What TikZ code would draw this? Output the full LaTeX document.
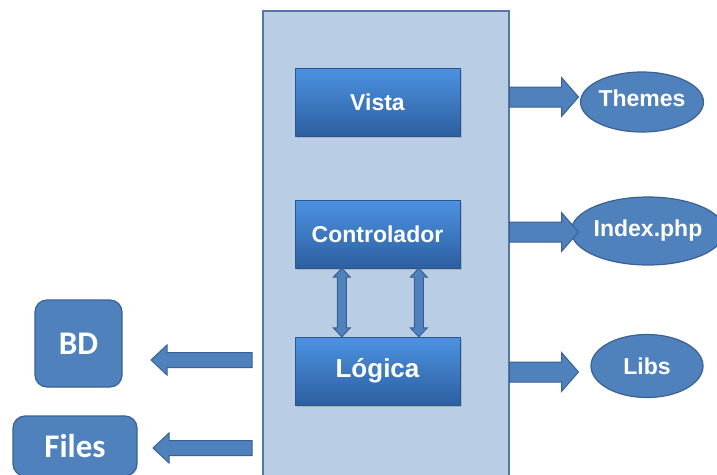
\documentclass[tikz,border=0pt]{standalone}
\usepackage{fontspec}
\setmainfont{Liberation Sans}
\newfontfamily\calfont{Carlito}
\usetikzlibrary{calc,shapes.geometric,shadows}

\definecolor{panelfill}{HTML}{B9CDE5}
\definecolor{paneledge}{HTML}{5577A8}
\definecolor{boxtop}{HTML}{4C92E2}
\definecolor{boxbot}{HTML}{2D5F9F}
\definecolor{shapefill}{HTML}{4F81BD}
\definecolor{shapeedge}{HTML}{3A6192}

\tikzset{
  panel/.style={draw=paneledge, line width=1.5pt, fill=panelfill},
  mvcbox/.style={rectangle, top color=boxtop, bottom color=boxbot,
    draw=boxbot!90!black, line width=0.4pt, text=white,
    font=\bfseries\fontsize{23}{26}\selectfont,
    minimum width=165pt, minimum height=68pt, inner sep=0pt,
    drop shadow={opacity=0.35, shadow xshift=1.5pt, shadow yshift=-2pt}},
  target/.style={ellipse, fill=shapefill, draw=shapeedge, line width=1.2pt,
    text=white, font=\bfseries\fontsize{23}{26}\selectfont, inner sep=0pt},
  store/.style={rectangle, rounded corners=12pt, fill=shapefill,
    draw=shapeedge, line width=1.2pt, text=white,
    font=\calfont\bfseries\fontsize{33}{36}\selectfont, inner sep=0pt},
  fatarrow/.style={fill=shapefill, draw=shapeedge, line width=1pt, line join=miter},
}

% horizontal block arrow: start, signed length, half shaft, half head, signed head length
\newcommand\blockarrow[5]{%
  \path[fatarrow]
    ($(#1)+(0,-#3)$) -- ($(#1)+({#2-(#5)},-#3)$) -- ($(#1)+({#2-(#5)},-#4)$)
    -- ($(#1)+(#2,0)$)
    -- ($(#1)+({#2-(#5)},#4)$) -- ($(#1)+({#2-(#5)},#3)$) -- ($(#1)+(0,#3)$) -- cycle;}

% vertical two-headed arrow between a top and a bottom point
\newcommand\twoway[2]{%
  \path[fatarrow]
    (#1) -- ($(#1)+(8.5,9)$) -- ($(#1)+(4.5,9)$) -- ($(#2)+(4.5,-9)$)
    -- ($(#2)+(8.5,-9)$) -- (#2) -- ($(#2)+(-8.5,-9)$) -- ($(#2)+(-4.5,-9)$)
    -- ($(#1)+(-4.5,9)$) -- ($(#1)+(-8.5,9)$) -- cycle;}

\begin{document}
\begin{tikzpicture}[x=1pt, y=-1pt]
  \useasboundingbox (0,0) rectangle (717,474);
  \clip (0,0) rectangle (717,474);

  % application panel
  \node[panel, anchor=north west, minimum width=246pt, minimum height=480pt,
        inner sep=0pt] (panel) at (262,10) {};

  % MVC layers
  \node[mvcbox] (vista) at (377.5,102) {Vista};
  \node[mvcbox] (ctrl)  at (377.5,234) {Controlador};
  \node[mvcbox, font=\bfseries\fontsize{26}{30}\selectfont] (logica) at (377.5,371) {Lógica};

  % controller <-> logic links
  \coordinate (l1t) at ($(ctrl.south west)+(47,0)$);
  \coordinate (l1b) at (l1t |- logica.north);
  \coordinate (l2t) at ($(ctrl.south west)+(124,0)$);
  \coordinate (l2b) at (l2t |- logica.north);
  \twoway{l1t}{l1b}
  \twoway{l2t}{l2b}

  % outputs on the right
  \node[target, minimum width=112pt, minimum height=60pt] (themes) at (642,102) {\raisebox{8pt}{Themes}};
  \node[target, minimum width=135pt, minimum height=68pt] (index)  at (648,231) {Index.php};
  \node[target, minimum width=112pt, minimum height=63pt] (libs)   at (647,366) {Libs};

  \coordinate (a1) at (panel.east |- 0,97);
  \coordinate (a2) at (panel.east |- 0,232);
  \coordinate (a3) at (panel.east |- 0,372);
  \blockarrow{a1}{69}{10}{19.5}{17}
  \blockarrow{a2}{69}{10}{19.5}{17}
  \blockarrow{a3}{69}{10}{19.5}{17}

  % storage on the left
  \node[store, minimum width=87pt, minimum height=87pt] (bd) at (78.5,343.5) {BD};
  \node[store, minimum width=124pt, minimum height=60pt] (files) at (75,446) {Files};

  \coordinate (b1) at (252,360);
  \coordinate (b2) at (252,448);
  \blockarrow{b1}{-101}{7.5}{15}{-16}
  \blockarrow{b2}{-99}{7.5}{15}{-16}
\end{tikzpicture}
\end{document}
